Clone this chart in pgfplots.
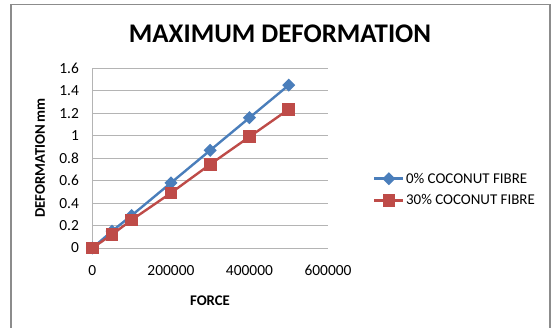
\documentclass[border=0pt]{standalone}
\usepackage{fontspec}
\setmainfont{Carlito}
\usepackage{pgfplots}
\pgfplotsset{compat=1.18}
\definecolor{exblue}{HTML}{4A7EBB}
\definecolor{exred}{HTML}{BE4B48}
\definecolor{gridgray}{HTML}{B4B4B4}
\definecolor{framegray}{HTML}{8C8C8C}
\begin{document}
\begin{tikzpicture}[x=1bp,y=1bp]
\useasboundingbox (0,0) rectangle (551,327);
\draw[framegray, line width=1.4bp] (11,-5) rectangle (550,322.5);
\node[font=\fontsize{27}{30}\selectfont\bfseries] at (280,293) {MAXIMUM DEFORMATION};
\node[font=\fontsize{14.8}{17}\selectfont\bfseries, rotate=90] at (40,169) {DEFORMATION\,mm};
\node[font=\fontsize{14.8}{17}\selectfont\bfseries] at (210,26) {FORCE};
\begin{axis}[
  at={(92.4bp,79bp)}, anchor=south west,
  scale only axis, width=235.6bp, height=179.7bp,
  xmin=0, xmax=600000, ymin=0, ymax=1.6,
  xtick={0,200000,400000,600000},
  ytick={0,0.2,0.4,0.6,0.8,1,1.2,1.4,1.6},
  yticklabels={0,0.2,0.4,0.6,0.8,1,1.2,1.4,1.6},
  scaled x ticks=false,
  xticklabel style={/pgf/number format/fixed, /pgf/number format/1000 sep={}, yshift=-14bp},
  yticklabel style={xshift=-10bp},
  /pgf/number format/assume math mode=true,
  tick label style={font=\fontsize{15.5}{18}\selectfont},
  major tick length=0pt,
  axis x line*=bottom, axis y line*=left,
  axis line style={draw=gridgray, line width=0.9bp, -},
  ymajorgrids, grid style={draw=gridgray, line width=0.9bp},
  legend style={draw=none, fill=none, at={(1.191,0.3255)}, anchor=west,
    inner sep=0pt, row sep=7bp,
    font=\fontsize{15}{17}\selectfont,
    nodes={inner sep=1.5bp}},
  legend cell align=left,
  legend image code/.code={\draw[mark repeat=2,mark phase=2,#1] plot coordinates {(0bp,0bp) (14.5bp,0bp) (29bp,0bp)};},
  clip=false,
]
\addplot[exblue, line width=2.4bp, mark=square*, mark size=3.4bp, mark options={rotate=45, solid}] coordinates {
  (0,0) (50000,0.15) (100000,0.29) (200000,0.58) (300000,0.87) (400000,1.16) (500000,1.45)};
\addlegendentry{0\% COCONUT FIBRE}
\addplot[exred, line width=2.4bp, mark=square*, mark size=5.2bp, mark options={solid}] coordinates {
  (0,0) (50000,0.12) (100000,0.25) (200000,0.49) (300000,0.745) (400000,0.99) (500000,1.235)};
\addlegendentry{30\% COCONUT FIBRE}
\end{axis}
\end{tikzpicture}
\end{document}
